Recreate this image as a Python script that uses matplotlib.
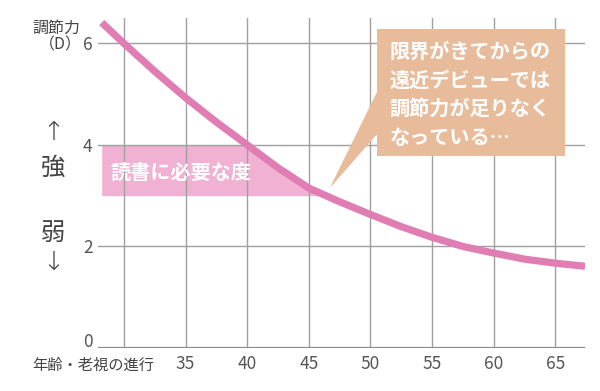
import matplotlib
matplotlib.use("Agg")
import matplotlib.pyplot as plt
from matplotlib.patches import Rectangle, Polygon
import matplotlib.transforms as mtransforms
import numpy as np

plt.rcParams['font.family'] = ['Noto Sans CJK JP', 'DejaVu Sans']

# ---- data ----
ages = [28.2, 30, 32.5, 35, 37.5, 40, 42.5, 45, 47.5, 50, 52.5, 55, 57.5, 60, 62.5, 65, 67.4]
power = [6.41, 6.0, 5.45, 4.93, 4.45, 4.0, 3.55, 3.15, 2.88, 2.63, 2.39, 2.18, 2.0, 1.87, 1.75, 1.67, 1.61]
xticks = [30, 35, 40, 45, 50, 55, 60, 65]
xticklabels = ['', '35', '40', '45', '50', '55', '60', '65']
yticks = [0, 2, 4, 6]
band_low, band_high = 3.0, 4.0
band_label = "読書に必要な度"
note_text = "限界がきてからの\n遠近デビューでは\n調節力が足りなく\nなっている…"
x_axis_label = "年齢・老視の進行"
y_axis_label = "調節力"
y_unit = "（D）"

W, H = 600, 391
fig = plt.figure(figsize=(W / 100, H / 100), dpi=100)
L, R, T, B = 98, 585, 18, 348
ax = fig.add_axes([L / W, 1 - B / H, (R - L) / W, (B - T) / H])

ax.set_xlim(27.9, 67.4)
ax.set_ylim(0, 6.5)

grid_c = '#a0a0a0'
for s in ax.spines.values():
    s.set_visible(False)
ax.axhline(0, color='#8a8a8a', lw=1.6, zorder=3)
for y in yticks[1:]:
    ax.axhline(y, color=grid_c, lw=1.0, zorder=2)
for x in xticks:
    ax.axvline(x, color=grid_c, lw=1.0, zorder=2)

ax.set_xticks(xticks)
ax.set_xticklabels(xticklabels)
ax.set_yticks(yticks)
ax.tick_params(length=0, labelsize=12.5, labelcolor='#555555', pad=5)
ax.tick_params(axis='y', pad=4)
lab0 = ax.get_yticklabels()[0]
lab0.set_transform(lab0.get_transform() +
                   mtransforms.ScaledTranslation(0, 6 / 72, fig.dpi_scale_trans))

a = np.array(ages)
p = np.array(power)
# band under the curve
ax.fill_between(a, band_low, np.minimum(band_high, p), where=p >= band_low,
                interpolate=True, color='#F0B1D3', lw=0, zorder=1)
ax.text(28.9, 3.47, band_label, color='white', fontsize=14.5, fontweight='bold',
        ha='left', va='center', zorder=4)

ax.plot(a, p, color='#E07DB3', lw=5.2, solid_capstyle='butt', zorder=5)

# callout box
box_c = '#E8BC9B'
ax.add_patch(Rectangle((50.52, 3.78), 65.77 - 50.52, 6.28 - 3.78, facecolor=box_c,
                       edgecolor='none', zorder=6))
ax.add_patch(Polygon([(50.6, 5.08), (50.6, 4.23), (46.7, 3.15)], closed=True,
                     facecolor=box_c, edgecolor='none', zorder=6))
ax.text(51.55, 5.0, note_text, color='white', fontsize=14.5, fontweight='bold',
        ha='left', va='center', linespacing=1.45, zorder=7)

def px(x, y):
    return x / W, 1 - y / H

tc = '#444444'
fig.text(*px(56, 28), y_axis_label, fontsize=11.5, color=tc, ha='center', va='center')
fig.text(*px(60, 45), y_unit, fontsize=11.5, color=tc, ha='center', va='center')
fig.text(*px(53, 133), "↑", fontsize=19, color=tc, ha='center', va='center',
         family=['DejaVu Sans'], fontweight='light')
fig.text(*px(53, 168), "強", fontsize=17.5, color=tc, ha='center', va='center')
fig.text(*px(53, 233), "弱", fontsize=17.5, color=tc, ha='center', va='center')
fig.text(*px(53, 262), "↓", fontsize=19, color=tc, ha='center', va='center',
         family=['DejaVu Sans'], fontweight='light')
fig.text(*px(154, 365), x_axis_label, fontsize=11, color=tc, ha='right', va='center')

fig.savefig('out.png', dpi=100, facecolor='white')
